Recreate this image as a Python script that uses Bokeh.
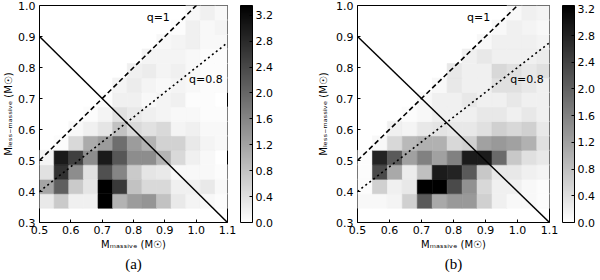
from bokeh.plotting import figure
from bokeh.models import (LinearColorMapper, ColorBar, FixedTicker, PrintfTickFormatter,
                          Label, Title, ColumnDataSource, Range1d)
from bokeh.layouts import row
from bokeh.embed import file_html
from bokeh.resources import INLINE

# ---------------- data ----------------
x_ticks = [0.5, 0.6, 0.7, 0.8, 0.9, 1.0, 1.1]
y_ticks = [0.3, 0.4, 0.5, 0.6, 0.7, 0.8, 0.9, 1.0]
cbar_ticks = [0.0, 0.4, 0.8, 1.2, 1.6, 2.0, 2.4, 2.8, 3.2]

primary_edge0 = 0.5      # lower edge of first M_massive bin
secondary_edge0 = 0.346  # lower edge of first M_less-massive bin
bin_width = 0.0467

total_mass = 1.4
q_values = [1.0, 0.8]
q_labels = ["q=1", "q=0.8"]
q_label_x = [0.842, 0.977]
q_label_y = [0.960, 0.760]

# rows from lowest secondary-mass bin upward, columns from lowest primary-mass bin
density_a = [
    [0.30, 0.70, 0.20, 0.20, 3.35, 1.00, 1.30, 1.40, 0.80, 0.30, 0.15, 0.10, 0.05],
    [1.20, 2.10, 0.70, 0.35, 3.35, 2.60, 0.80, 0.50, 0.50, 0.20, 0.20, 0.30, 0.10],
    [0.40, 2.70, 1.50, 0.40, 2.30, 1.60, 0.70, 0.35, 0.30, 0.10, 0.10, 0.10, 0.05],
    [0.15, 3.00, 2.50, 1.50, 3.00, 2.20, 1.50, 1.50, 1.00, 0.50, 0.20, 0.10, 0.00],
    [0.00, 0.05, 0.50, 1.10, 1.30, 1.90, 1.30, 1.00, 0.60, 0.60, 0.30, 0.15, 0.10],
    [0.00, 0.00, 0.10, 0.20, 0.35, 0.80, 0.50, 0.40, 0.50, 0.15, 0.20, 0.10, 0.10],
    [0.00, 0.00, 0.00, 0.05, 0.15, 0.40, 0.30, 0.20, 0.15, 0.10, 0.10, 0.05, 0.05],
    [0.00, 0.00, 0.00, 0.00, 0.05, 0.20, 0.20, 0.10, 0.15, 0.20, 0.05, 0.05, 0.00],
    [0.00, 0.00, 0.00, 0.00, 0.00, 0.15, 0.25, 0.15, 0.10, 0.15, 0.10, 0.05, 0.05],
    [0.00, 0.00, 0.00, 0.00, 0.00, 0.00, 0.20, 0.25, 0.15, 0.20, 0.10, 0.05, 0.05],
    [0.00, 0.00, 0.00, 0.00, 0.00, 0.00, 0.00, 0.15, 0.15, 0.15, 0.10, 0.05, 0.05],
    [0.00, 0.00, 0.00, 0.00, 0.00, 0.00, 0.00, 0.00, 0.10, 0.15, 0.20, 0.10, 0.10],
    [0.00, 0.00, 0.00, 0.00, 0.00, 0.00, 0.00, 0.00, 0.00, 0.05, 0.20, 0.10, 0.15],
    [0.00, 0.00, 0.00, 0.00, 0.00, 0.00, 0.00, 0.00, 0.00, 0.00, 0.10, 0.20, 0.10],
]
density_b = [
    [0.10, 0.10, 0.15, 0.60, 2.10, 1.10, 1.30, 1.30, 0.60, 0.20, 0.10, 0.10, 0.05],
    [0.05, 0.60, 0.20, 0.30, 3.24, 3.24, 2.30, 1.40, 0.50, 0.20, 0.20, 0.10, 0.05],
    [0.05, 2.30, 1.10, 0.25, 0.80, 2.90, 2.80, 2.10, 0.70, 0.30, 0.30, 0.20, 0.15],
    [0.05, 2.80, 2.10, 1.20, 1.60, 1.20, 1.60, 2.90, 2.90, 1.90, 0.70, 0.40, 0.30],
    [0.00, 0.10, 0.50, 0.90, 1.00, 1.00, 0.50, 0.60, 1.20, 1.30, 1.20, 1.00, 0.40],
    [0.00, 0.00, 0.20, 0.15, 0.30, 0.35, 0.30, 0.30, 0.40, 0.60, 0.50, 0.60, 0.30],
    [0.00, 0.00, 0.00, 0.05, 0.10, 0.20, 0.20, 0.20, 0.30, 0.30, 0.20, 0.30, 0.20],
    [0.00, 0.00, 0.00, 0.00, 0.10, 0.20, 0.20, 0.30, 0.20, 0.20, 0.30, 0.20, 0.20],
    [0.00, 0.00, 0.00, 0.00, 0.00, 0.10, 0.30, 0.20, 0.20, 0.40, 0.40, 0.30, 0.20],
    [0.00, 0.00, 0.00, 0.00, 0.00, 0.00, 0.30, 0.20, 0.20, 0.50, 0.40, 0.30, 0.40],
    [0.00, 0.00, 0.00, 0.00, 0.00, 0.00, 0.00, 0.20, 0.30, 0.20, 0.20, 0.20, 0.25],
    [0.00, 0.00, 0.00, 0.00, 0.00, 0.00, 0.00, 0.00, 0.10, 0.20, 0.20, 0.20, 0.15],
    [0.00, 0.00, 0.00, 0.00, 0.00, 0.00, 0.00, 0.00, 0.00, 0.10, 0.20, 0.15, 0.10],
    [0.00, 0.00, 0.00, 0.00, 0.00, 0.00, 0.00, 0.00, 0.00, 0.00, 0.10, 0.20, 0.15],
]
vmax_a = 3.35
vmax_b = 3.25

x_label = "M\u2098\u2090\u209b\u209b\u1d62\u1d65\u2091 (M\u2609)"
y_label = "M\u2097\u2091\u209b\u209b\u208b\u2098\u2090\u209b\u209b\u1d62\u1d65\u2091 (M\u2609)"

# ---------------- styling ----------------
FONT = "DejaVu Sans"
GRAYS = ["#%02x%02x%02x" % (g, g, g) for g in range(255, -1, -1)]


def panel(grid, vmax, caption, left_border, frame_w, right_border, ylab_standoff):
    mapper = LinearColorMapper(palette=GRAYS, low=0.0, high=vmax)
    p = figure(frame_width=frame_w, frame_height=217,
               min_border_left=left_border, min_border_right=right_border,
               min_border_top=5, min_border_bottom=49,
               x_range=Range1d(x_ticks[0], x_ticks[-1]),
               y_range=Range1d(y_ticks[0], y_ticks[-1]),
               output_backend="svg", toolbar_location=None,
               background_fill_color="white", border_fill_color="white")
    p.xgrid.visible = False
    p.ygrid.visible = False
    p.outline_line_color = "black"
    p.outline_line_width = 1

    left, right, bottom, top, val = [], [], [], [], []
    for r, rowv in enumerate(grid):
        for c, v in enumerate(rowv):
            if v > 0:
                left.append(primary_edge0 + c * bin_width)
                right.append(primary_edge0 + (c + 1) * bin_width)
                bottom.append(secondary_edge0 + r * bin_width)
                top.append(secondary_edge0 + (r + 1) * bin_width)
                val.append(v)
    src = ColumnDataSource(dict(left=left, right=right, bottom=bottom, top=top, v=val))
    p.quad(left="left", right="right", bottom="bottom", top="top", source=src,
           fill_color={"field": "v", "transform": mapper},
           line_color={"field": "v", "transform": mapper}, line_width=0.6)

    xs = [x_ticks[0], x_ticks[-1]]
    p.line(xs, [total_mass - x for x in xs], line_color="black", line_width=1.5)
    p.line(xs, [q_values[0] * x for x in xs], line_color="black", line_width=1.6,
           line_dash="5 3")
    p.line(xs, [q_values[1] * x for x in xs], line_color="black", line_width=1.6,
           line_dash="2 3")
    for t, lx, ly in zip(q_labels, q_label_x, q_label_y):
        p.add_layout(Label(x=lx, y=ly, text=t, text_font=FONT, text_font_size="11px",
                           text_baseline="middle", text_color="black"))

    for ax in (p.xaxis[0], p.yaxis[0]):
        ax.axis_line_color = None
        ax.major_tick_in = 3
        ax.major_tick_out = 0
        ax.minor_tick_line_color = None
        ax.major_label_text_font = FONT
        ax.major_label_text_font_size = "11px"
        ax.major_label_text_color = "black"
        ax.axis_label_text_font = FONT
        ax.axis_label_text_font_size = "10px"
        ax.axis_label_text_font_style = "normal"
        ax.axis_label_text_color = "black"
        ax.formatter = PrintfTickFormatter(format="%.1f")
    p.xaxis[0].ticker = FixedTicker(ticks=x_ticks)
    p.yaxis[0].ticker = FixedTicker(ticks=y_ticks)
    p.xaxis[0].major_label_standoff = 3
    p.yaxis[0].major_label_standoff = 4
    p.xaxis[0].axis_label = x_label
    p.yaxis[0].axis_label = y_label
    p.xaxis[0].axis_label_standoff = 2
    p.yaxis[0].axis_label_standoff = ylab_standoff

    cb = ColorBar(color_mapper=mapper, width=12, height=217, margin=0, padding=0,
                  location=(13, 0),
                  ticker=FixedTicker(ticks=cbar_ticks),
                  formatter=PrintfTickFormatter(format="%.1f"),
                  major_label_text_font=FONT, major_label_text_font_size="11px",
                  major_label_text_color="black",
                  label_standoff=3, major_tick_in=3, major_tick_out=0,
                  major_tick_line_color="black", minor_tick_line_color=None,
                  bar_line_color="black", border_line_color=None,
                  background_fill_color="white")
    p.add_layout(cb, "right")

    p.add_layout(Title(text=caption, align="center", text_font="Liberation Serif",
                       text_font_size="15px", text_font_style="normal",
                       text_color="black", standoff=2, offset=0), "below")
    return p


pa = panel(density_a, vmax_a, "(a)", 34, 188, 70, 1)
pb = panel(density_b, vmax_b, "(b)", 60, 192, 48, 4)
layout = row(pa, pb)
layout.spacing = 0

open("out.html", "w").write(file_html(layout, INLINE))
